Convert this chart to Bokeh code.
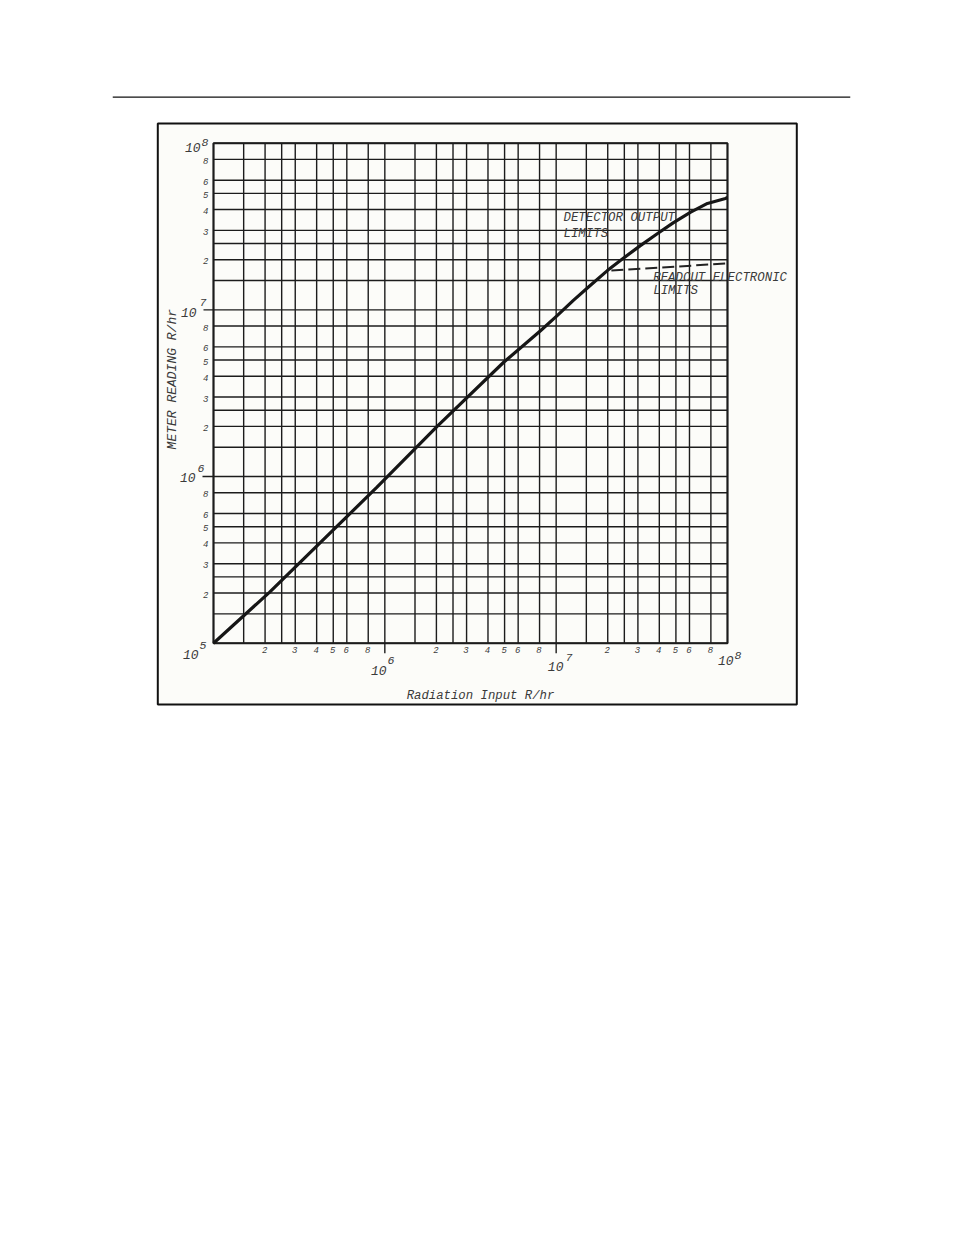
import math
from bokeh.plotting import figure
from bokeh.models import ColumnDataSource
from bokeh.core.properties import value
from bokeh.embed import file_html
from bokeh.resources import INLINE

# ---- data ----
curve_x = [1e5, 2.12e5, 9.0e5, 2.02e6, 4.94e6, 8.1e6, 1.01e7, 1.26e7, 1.58e7, 1.99e7,
           2.37e7, 3.1e7, 3.89e7, 4.84e7, 6.1e7, 7.64e7, 9.73e7, 1e8]
curve_y = [1e5, 2.02e5, 8.63e5, 2.0e6, 4.85e6, 7.5e6, 9.2e6, 1.14e7, 1.40e7, 1.72e7,
           1.98e7, 2.43e7, 2.86e7, 3.34e7, 3.86e7, 4.35e7, 4.66e7, 4.72e7]
readout_x = [2.1e7, 1e8]
readout_y = [1.72e7, 1.9e7]

decades = [1e5, 1e6, 1e7]
grid_mult = [1, 1.5, 2, 2.5, 3, 4, 5, 6, 8]
label_mult = [2, 3, 4, 5, 6, 8]
tick_text = ["2", "3", "4", "5", "6", "8"]

X_MIN, X_MAX = 1e5, 1e8
Y_MIN, Y_MAX = 1e5, 1e8

grid_ticks = [m * d for d in decades for m in grid_mult] + [1e8]
label_ticks = [m * d for d in decades for m in label_mult]
label_strs = [t for d in decades for t in tick_text]

FONT = "Liberation Mono"
INK = "#1c1c1c"
TXT = "#3a3a3a"

# pixel scale of the chart grid (px per decade) -- used only to offset decorations
XPD, YPD = 171.33, 166.67
FX0, FY0 = 213.0, 142.7          # canvas px of the (1e5, 1e8) grid corner

def px_x(px):
    return X_MIN * 10 ** ((px - FX0) / XPD)

def px_y(py):
    return Y_MAX * 10 ** (-(py - FY0) / YPD)

def sx(v, dpx):
    return v * 10 ** (dpx / XPD)

def sy(v, dpx_down):
    return v * 10 ** (-dpx_down / YPD)

W, H = 940, 712
p = figure(width=W, height=H, x_axis_type="log", y_axis_type="log",
           x_range=(px_x(112), px_x(850)), y_range=(px_y(706), px_y(95)),
           x_axis_location=None, y_axis_location=None,
           output_backend="svg", toolbar_location=None,
           min_border_left=112, min_border_right=W - 850,
           min_border_top=95, min_border_bottom=H - 706)
p.title.visible = False
p.background_fill_color = "white"
p.border_fill_color = "white"
p.outline_line_color = None
p.xgrid.visible = False
p.ygrid.visible = False

# page header rule and outer figure box
p.segment(x0=[px_x(112)], y0=[px_y(96.7)], x1=[px_x(850)], y1=[px_y(96.7)],
          line_color="#111111", line_width=1.3)
p.quad(left=[px_x(157.3)], right=[px_x(796.3)], top=[px_y(123)], bottom=[px_y(704)],
       fill_color="#fcfcf9", line_color="#111111", line_width=2)

# log grid of the chart
p.segment(x0=grid_ticks, y0=[Y_MIN] * len(grid_ticks), x1=grid_ticks,
          y1=[Y_MAX] * len(grid_ticks), line_color=INK, line_width=1.4)
p.segment(x0=[X_MIN] * len(grid_ticks), y0=grid_ticks, x1=[X_MAX] * len(grid_ticks),
          y1=grid_ticks, line_color=INK, line_width=1.4)
p.quad(left=[X_MIN], right=[X_MAX], bottom=[Y_MIN], top=[Y_MAX],
       fill_color=None, line_color=INK, line_width=2)

# decade tick extensions
ext = [1e6, 1e7]
p.segment(x0=ext, y0=[Y_MIN] * 2, x1=ext, y1=[sy(Y_MIN, 10)] * 2,
          line_color=INK, line_width=1.4)
p.segment(x0=[X_MIN] * 2, y0=ext, x1=[sx(X_MIN, -11), sx(X_MIN, -10)], y1=ext,
          line_color=INK, line_width=1.4)

# curves
p.line(curve_x, curve_y, line_width=3.2, line_color="#161616")
p.line(readout_x, readout_y, line_width=2, line_color="#222222", line_dash="12 5")

def txt(xs, ys, texts, size, align="left", angle=0.0, color=TXT):
    src = ColumnDataSource(dict(x=xs, y=ys, t=texts))
    p.text(x="x", y="y", text="t", source=src, text_font=value(FONT),
           text_font_style="italic", text_font_size=size, text_color=color,
           text_align=align, text_baseline="middle", angle=angle)

# minor tick labels
txt([sx(v, -0.5) for v in label_ticks], [sy(Y_MIN, 6.5)] * len(label_ticks),
    label_strs, "9px", align="center")
txt([sx(X_MIN, -5)] * len(label_ticks), [sy(v, 1.5) for v in label_ticks],
    label_strs, "9px", align="right")

# decade labels  (anchor, base offsets, exponent offsets in px; dy is downward)
ydec_vals = [1e8, 1e7, 1e6, 1e5]
ydec_exp = ["8", "7", "6", "5"]
ydec_off = [(-13, 3.8, -12, -1.2), (-17, 2.2, -14, -7.3),
            (-18, 1.0, -16, -8.0), (-15, 11.3, -14, 2.3)]
txt([sx(X_MIN, o[0]) for o in ydec_off], [sy(v, o[1]) for v, o in zip(ydec_vals, ydec_off)],
    ["10"] * 4, "13px", align="right")
txt([sx(X_MIN, o[2]) for o in ydec_off], [sy(v, o[3]) for v, o in zip(ydec_vals, ydec_off)],
    ydec_exp, "11.5px")

xdec_vals = [1e6, 1e7, 1e8]
xdec_exp = ["6", "7", "8"]
xdec_off = [(1.7, 27.3, 2.7, 17.3), (7.3, 23.3, 9.3, 14.3), (6.0, 16.8, 7.0, 12.3)]
txt([sx(v, o[0]) for v, o in zip(xdec_vals, xdec_off)], [sy(Y_MIN, o[1]) for o in xdec_off],
    ["10"] * 3, "13px", align="right")
txt([sx(v, o[2]) for v, o in zip(xdec_vals, xdec_off)], [sy(Y_MIN, o[3]) for o in xdec_off],
    xdec_exp, "11.5px")

# curve annotations
txt([sx(X_MIN, 350), sx(X_MIN, 350), sx(X_MIN, 439.7), sx(X_MIN, 439.7)],
    [sy(Y_MAX, 74.8), sy(Y_MAX, 90.3), sy(Y_MAX, 134.8), sy(Y_MAX, 147.8)],
    ["DETECTOR OUTPUT", "LIMITS", "READCUT ELECTRONIC", "LIMITS"], "12.4px")

# axis titles
txt([sx(X_MIN, 267)], [sy(Y_MIN, 52.3)], ["Radiation Input R/hr"], "12.3px", align="center")
txt([sx(X_MIN, -41)], [sy(Y_MAX, 236)], ["METER READING R/hr"], "13px",
    align="center", angle=math.pi / 2)

open("out.html", "w").write(file_html(p, INLINE))
